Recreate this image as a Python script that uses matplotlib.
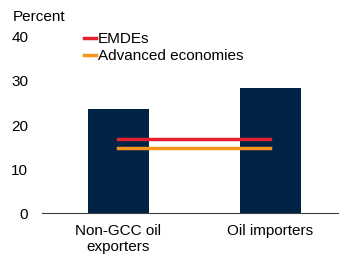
import numpy as np
import matplotlib
matplotlib.use('Agg')
import matplotlib.pyplot as plt

plt.rcParams['font.family'] = ['Liberation Sans', 'DejaVu Sans']

categories = ['Non-GCC oil\nexporters', 'Oil importers']
bar_values = [23.6, 28.5]
emdes = [16.8, 16.8]
advanced = [14.7, 14.7]

fig = plt.figure(figsize=(3.39, 2.58), dpi=100)
ax = fig.add_axes([0.124, 0.174, 0.876, 0.683])

x = np.arange(len(categories))
ax.bar(x, bar_values, width=0.4, color='#002345', zorder=2)
ax.plot(x, emdes, color='#e4202e', lw=2.5, label='EMDEs', zorder=3)
ax.plot(x, advanced, color='#f7941d', lw=2.5, label='Advanced economies', zorder=3)

ax.set_xlim(-0.5, 1.45)
ax.set_ylim(0, 40)
ax.set_yticks([0, 10, 20, 30, 40])
ax.set_xticks(x)
ax.set_xticklabels(categories)
ax.tick_params(axis='both', length=0, labelsize=11, colors='#000000')
ax.tick_params(axis='y', pad=10)
ax.tick_params(axis='x', pad=8)
for s in ['top', 'right', 'left']:
    ax.spines[s].set_visible(False)
ax.spines['bottom'].set_color('#404040')
ax.spines['bottom'].set_linewidth(0.8)

ax.legend(loc='upper left', bbox_to_anchor=(0.12, 1.06), frameon=False,
          fontsize=11, handlelength=0.8, handletextpad=0.1, labelspacing=0.2,
          borderaxespad=0)

fig.text(0.038, 0.935, 'Percent', fontsize=11, ha='left', va='center')

fig.savefig('out.png', dpi=100)
